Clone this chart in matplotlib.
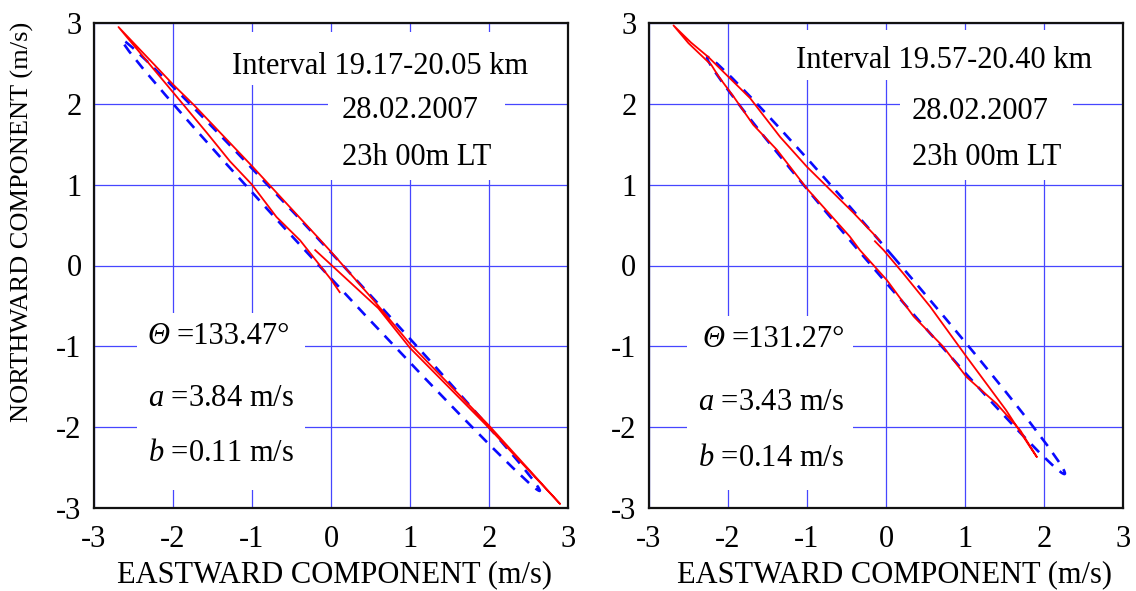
import matplotlib
matplotlib.use("Agg")
import matplotlib.pyplot as plt
from matplotlib.patches import Ellipse, Rectangle

# ---------------- data ----------------
ticks = [-3, -2, -1, 0, 1, 2, 3]
tick_labels = ["-3", "-2", "-1", "0", "1", "2", "3"]

left_east = [-0.20, 0.60, 1.00, 2.00, 2.90, 2.00, 1.00, 0.54, 0.00, -0.14, -1.00,
             -1.74, -2.00, -2.31, -2.69, -2.04, -1.57, -1.28, -1.00, -0.69, -0.39,
             -0.01, 0.11]
left_north = [0.19, -0.53, -1.02, -2.01, -2.95, -1.98, -0.97, -0.43, 0.17, 0.32, 1.23,
              1.99, 2.24, 2.56, 2.95, 2.19, 1.64, 1.29, 1.00, 0.60, 0.31,
              -0.16, -0.33]

right_east = [-0.14, -0.03, 0.22, 0.56, 1.02, 1.52, 1.82, 1.91, 1.70, 1.40, 1.02,
              0.72, 0.35, 0.01, -0.33, -0.46, -1.00, -1.38, -1.68, -1.93, -2.12,
              -2.21, -2.50, -2.69, -2.47, -2.25, -1.72, -1.34, -1.00, -0.41, -0.08]
right_north = [0.30, 0.19, -0.10, -0.51, -1.13, -1.79, -2.24, -2.37, -2.04, -1.71, -1.38,
               -1.00, -0.63, -0.18, 0.19, 0.36, 0.95, 1.43, 1.74, 2.09, 2.34,
               2.48, 2.75, 2.97, 2.76, 2.58, 2.07, 1.59, 1.22, 0.65, 0.31]

theta_deg = [133.47, 131.27]
semi_major = [3.84, 3.43]
semi_minor = [0.11, 0.14]
intervals = ["Interval 19.17-20.05 km", "Interval 19.57-20.40 km"]
date_text = "28.02.2007"
time_text = "23h 00m LT"

# ---------------- style ----------------
plt.rcParams["font.family"] = ["Liberation Serif", "DejaVu Serif"]
plt.rcParams["mathtext.fontset"] = "custom"
plt.rcParams["mathtext.rm"] = "Liberation Serif"
plt.rcParams["mathtext.it"] = "Liberation Serif:italic"

fig = plt.figure(figsize=(11.36, 5.91), dpi=100)
fig.patch.set_facecolor("white")

axes_rects = [[94 / 1136, 1 - 508 / 591, 474 / 1136, 485 / 591],
              [649 / 1136, 1 - 508 / 591, 474 / 1136, 485 / 591]]

series = [(left_east, left_north), (right_east, right_north)]

# layout of text boxes (data coords)
layouts = [
    dict(int_xy=(-1.25, 2.46), date_xy=(0.14, 1.92), time_xy=(0.14, 1.33),
         int_box=(-1.34, 2.23, 4.0, 0.66), date_box=(-0.04, 1.06, 2.24, 1.2),
         low_box=(-2.46, -2.78, 2.13, 2.19),
         th_xy=(-2.32, -0.88), a_xy=(-2.32, -1.64), b_xy=(-2.32, -2.32)),
    dict(int_xy=(-1.14, 2.54), date_xy=(0.33, 1.90), time_xy=(0.33, 1.33),
         int_box=(-1.28, 2.29, 3.99, 0.62), date_box=(0.18, 1.06, 2.19, 1.24),
         low_box=(-2.52, -2.78, 2.10, 2.15),
         th_xy=(-2.32, -0.92), a_xy=(-2.38, -1.69), b_xy=(-2.38, -2.39)),
]

grid_color = "#4646ff"
fs_text = 22

for i, ax_rect in enumerate(axes_rects):
    ax = fig.add_axes(ax_rect)
    ax.set_xlim(-3, 3)
    ax.set_ylim(-3, 3)
    ax.set_xticks(ticks)
    ax.set_yticks(ticks)
    ax.set_xticklabels(tick_labels)
    ax.set_yticklabels(tick_labels)
    ax.tick_params(length=0, labelsize=22, pad=9)
    ax.tick_params(axis="x", pad=12)
    ax.grid(True, color=grid_color, linewidth=0.9, zorder=0)
    ax.set_axisbelow(True)
    for sp in ax.spines.values():
        sp.set_linewidth(1.6)
        sp.set_color("#111111")
        sp.set_zorder(10)

    L = layouts[i]
    for (x0, y0, w, h) in (L["int_box"], L["date_box"], L["low_box"]):
        ax.add_patch(Rectangle((x0, y0), w, h, facecolor="white",
                               edgecolor="none", zorder=1))

    # fitted ellipse (blue dashed)
    ax.add_patch(Ellipse((0, 0), width=2 * semi_major[i], height=2 * semi_minor[i],
                         angle=theta_deg[i], fill=False, edgecolor="#0a0aff",
                         linewidth=1.9, linestyle=(0, (4.2, 3.2)), zorder=3))
    # observed hodograph (red)
    ex, ny = series[i]
    ax.plot(ex, ny, color="#ff0000", linewidth=1.3, zorder=4)

    ax.text(*L["int_xy"], intervals[i], fontsize=fs_text, va="center", ha="left", zorder=5)
    ax.text(*L["date_xy"], date_text, fontsize=fs_text, va="center", ha="left", zorder=5)
    ax.text(*L["time_xy"], time_text, fontsize=fs_text, va="center", ha="left", zorder=5)
    # theta: italic symbol + regular value
    ax.text(*L["th_xy"], "Θ", fontsize=fs_text, style="italic", va="center",
            ha="left", zorder=5)
    ax.annotate("=%.2f°" % theta_deg[i], xy=L["th_xy"], xytext=(21, 0),
                textcoords="offset points", fontsize=fs_text, va="center",
                ha="left", zorder=5)
    ax.text(*L["a_xy"], r"$\mathit{a}$ =%.2f m/s" % semi_major[i], fontsize=fs_text,
            va="center", ha="left", zorder=5)
    ax.text(*L["b_xy"], r"$\mathit{b}$ =%.2f m/s" % semi_minor[i], fontsize=fs_text,
            va="center", ha="left", zorder=5)

    ax.set_xlabel("EASTWARD COMPONENT (m/s)", fontsize=22)
    ax.xaxis.set_label_coords(0.508 if i == 0 else 0.517, -0.108)
    if i == 0:
        ax.set_ylabel("NORTHWARD COMPONENT (m/s)", fontsize=19)
        ax.yaxis.set_label_coords(-0.127, 0.59)

fig.savefig("out.png", dpi=100, facecolor="white")
